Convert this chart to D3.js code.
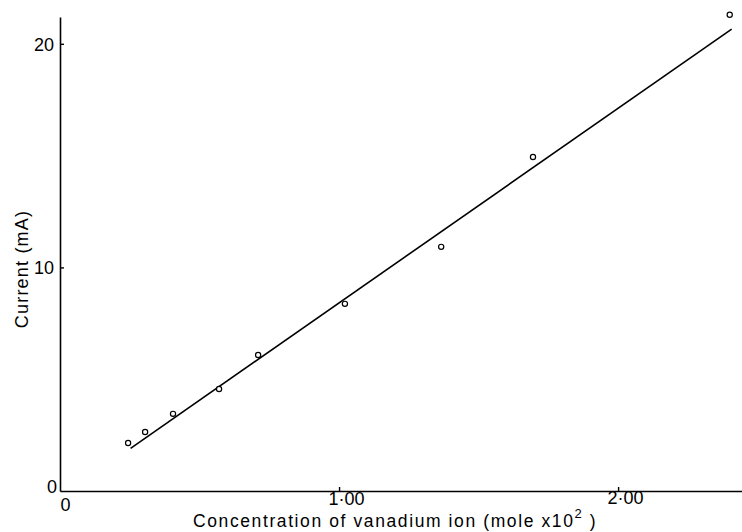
<!DOCTYPE html>
<html><head><meta charset="utf-8">
<script src="https://cdn.jsdelivr.net/npm/d3@7"></script>
<style>
html,body{margin:0;padding:0;background:#fff;}
text{font-family:"Liberation Sans","DejaVu Sans",sans-serif;fill:#000;}
</style></head>
<body>
<svg id="chart" width="742" height="532"></svg>
<script>
// Data
const concentration = [0.244, 0.305, 0.405, 0.570, 0.710, 1.021, 1.366, 1.695, 2.400];
const current      = [2.15, 2.64, 3.45, 4.56, 6.08, 8.37, 10.92, 14.94, 21.30];
const fitX = [0.253, 2.407];
const fitY = [1.91, 20.66];
const xTicks = [0, 1, 2];
const xTickLabels = ["0", "1·00", "2·00"];
const yTicks = [0, 10, 20];
const yTickLabels = ["0", "10", "20"];

const svg = d3.select("#chart");
const x = d3.scaleLinear().domain([0, 2.444]).range([60, 742]);
const y = d3.scaleLinear().domain([0, 21.2]).range([491, 17]);

// X axis
const gx = svg.append("g").attr("transform", `translate(0,${y(0)})`)
  .call(d3.axisBottom(x).tickValues(xTicks).tickSizeInner(-4).tickSizeOuter(0)
        .tickFormat((d,i) => xTickLabels[i]));
gx.select(".domain").attr("stroke", "#000").attr("stroke-width", 1.6);
gx.selectAll(".tick line").attr("stroke", "#000").attr("stroke-width", 1.4)
  .attr("display", d => d === 0 ? "none" : null);
gx.selectAll(".tick text").attr("font-size", 18).attr("font-family", null)
  .attr("dy", null)
  .attr("y", (d) => d === 2 ? 13 : (d === 1 ? 14 : 20))
  .attr("x", (d) => d === 0 ? 5 : (d === 1 ? 7 : 7));

// Y axis
const gy = svg.append("g").attr("transform", `translate(${x(0)},0)`)
  .call(d3.axisLeft(y).tickValues(yTicks).tickSizeInner(-4).tickSizeOuter(0)
        .tickFormat((d,i) => yTickLabels[i]));
gy.select(".domain").attr("stroke", "#000").attr("stroke-width", 1.6);
gy.selectAll(".tick line").attr("stroke", "#000").attr("stroke-width", 1.4)
  .attr("display", d => d === 0 ? "none" : null);
gy.selectAll(".tick text").attr("font-size", 18).attr("font-family", null)
  .attr("x", d => d === 0 ? -3 : -6).attr("dy", d => d === 0 ? "0.1em" : "0.35em");

// Fit line
svg.append("line")
  .attr("x1", x(fitX[0])).attr("y1", y(fitY[0]))
  .attr("x2", x(fitX[1])).attr("y2", y(fitY[1]))
  .attr("stroke", "#000").attr("stroke-width", 1.6);

// Points
svg.append("g").selectAll("circle")
  .data(concentration.map((c, i) => [c, current[i]]))
  .join("circle")
  .attr("cx", d => x(d[0])).attr("cy", d => y(d[1]))
  .attr("r", 2.6).attr("fill", "#fff").attr("stroke", "#000").attr("stroke-width", 1.2);

// Axis titles
const xt = svg.append("text").attr("x", 193).attr("y", 527)
  .attr("font-size", 17.5).attr("letter-spacing", 1.6);
xt.append("tspan").text("Concentration of vanadium ion  (mole x10");
xt.append("tspan").attr("font-size", 13).attr("dy", -9).text("2");
xt.append("tspan").attr("dy", 9).text(" )");

svg.append("text")
  .attr("transform", "translate(28,269) rotate(-90)")
  .attr("text-anchor", "middle").attr("font-size", 18).attr("letter-spacing", 1.2)
  .text("Current  (mA)");
</script>
</body></html>
